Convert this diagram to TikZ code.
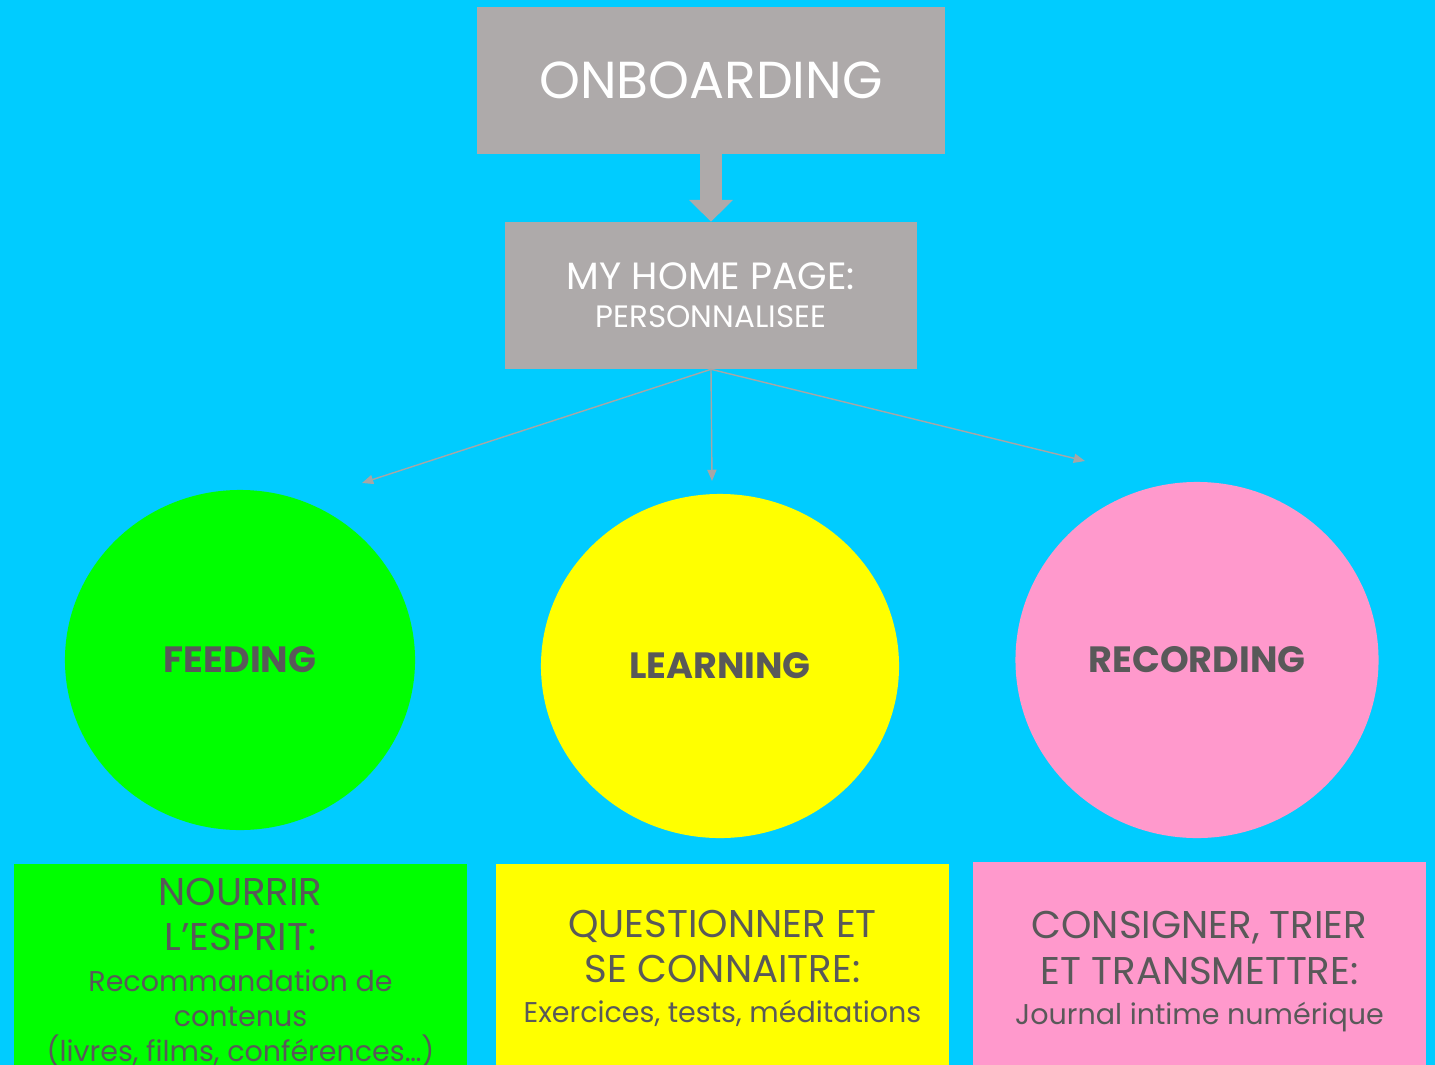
\documentclass[tikz,border=0pt]{standalone}
\usepackage{fontspec}
\setmainfont{Poppins}
\usetikzlibrary{arrows.meta,shapes.geometric}

\definecolor{sky}{HTML}{00CCFF}
\definecolor{boxgray}{HTML}{AEAAAA}
\definecolor{feedgreen}{HTML}{00FF00}
\definecolor{learnyellow}{HTML}{FFFF00}
\definecolor{recpink}{HTML}{FF99CC}
\definecolor{textgray}{HTML}{595959}
\definecolor{linegray}{HTML}{A6A6A6}

\tikzset{
	topbox/.style={fill=boxgray, text=white, inner sep=0pt, align=center},
	blob/.style={ellipse, inner sep=0pt, text=textgray, font=\fontsize{26}{30}\selectfont\bfseries},
	infobox/.style={anchor=north, minimum width=11.325cm, minimum height=5.2cm, inner sep=0pt,
		text=textgray, align=center, font=\fontsize{27.5}{32.5}\selectfont},
	feeder/.style={draw=linegray, line width=1pt, -{Triangle[length=8pt,width=6.5pt]}}
}
\newcommand{\detailfont}{\fontsize{20.3}{25}\selectfont}

\begin{document}
\begin{tikzpicture}[x=0.025cm, y=-0.025cm]
		%%%%% START %%%%%
		
		\clip (0, 0) rectangle (1435, 1065);
		\fill[sky] (0, 0) rectangle (1435, 1065);
		
		% top of the flow
		\node[topbox, minimum width=11.675cm, minimum height=3.675cm, font=\fontsize{37}{40}\selectfont] (onb) at (711, 80.5) {ONBOARDING};
		\node[topbox, minimum width=10.3cm, minimum height=3.675cm, font=\fontsize{27}{30}\selectfont] (home) at (711, 295.5) {MY HOME PAGE:\\[-3pt]{\fontsize{22}{24}\selectfont PERSONNALISEE}};
		
		\draw[boxgray, line width=15pt, -{Triangle[length=15.6pt,width=30.6pt]}] (onb.south) -- (home.north);
		
		% the three circles
		\node[blob, fill=feedgreen, minimum width=8.75cm, minimum height=8.5cm] (feed) at (240, 660) {FEEDING};
		\node[blob, fill=learnyellow, minimum width=8.95cm, minimum height=8.6cm] (learn) at (720, 666) {LEARNING};
		\node[blob, fill=recpink, minimum width=9.075cm, minimum height=8.9cm] (rec) at (1197, 660) {RECORDING};
		
		\coordinate (feedtip) at (362, 483);
		\coordinate (learntip) at (712, 481);
		\coordinate (rectip) at (1085, 461);
		\draw[feeder] (home.south) -- (feedtip);
		\draw[feeder] (home.south) -- (learntip);
		\draw[feeder] (home.south) -- (rectip);
		
		% boxes below
		\node[infobox, fill=feedgreen, minimum height=5.4cm] (feedbox) at (240.5, 864) {NOURRIR\\L’ESPRIT:\\[-4pt]\detailfont Recommandation de\\[-7.5pt]\detailfont contenus\\[-7.5pt]\detailfont (livres, films, conférences…)};
		\node[infobox, fill=learnyellow] (learnbox) at (722.5, 864) {QUESTIONNER ET\\SE CONNAITRE:\\[-4pt]\detailfont Exercices, tests, méditations};
		\node[infobox, fill=recpink, minimum height=5.45cm] (recbox) at (1199.5, 862) {CONSIGNER, TRIER\\ET TRANSMETTRE:\\[-4pt]\detailfont Journal intime numérique};
		
		%%%%% END %%%%%
	\end{tikzpicture}
\end{document}
